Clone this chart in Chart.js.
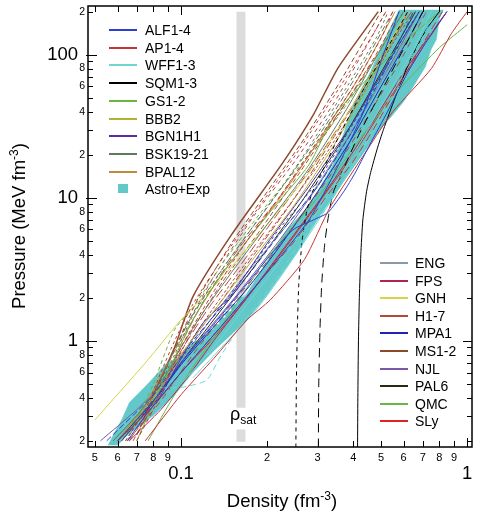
<!DOCTYPE html>
<html><head><meta charset="utf-8">
<script src="https://cdn.jsdelivr.net/npm/chart.js@4.4.1/dist/chart.umd.min.js"></script>
<style>
html,body{margin:0;padding:0;background:#fff;}
#wrap{position:relative;width:481px;height:515px;font-family:"Liberation Sans",Arial,sans-serif;color:#000;overflow:hidden;}
#c{position:absolute;left:0;top:0;}
.row{position:absolute;height:18px;line-height:18px;font-size:14px;white-space:nowrap;}
.sw{position:absolute;}
.title{position:absolute;font-size:18.5px;white-space:nowrap;text-align:center;}
.title sup{font-size:12px;vertical-align:7px;line-height:0;}
#ytitle{left:-131px;top:215px;width:300px;height:22px;line-height:22px;transform:rotate(-90deg);}
#xtitle{left:132px;top:490px;width:300px;height:22px;line-height:22px;}
#rhosat{position:absolute;left:230px;top:404px;font-size:18px;line-height:20px;}
#rhosat span{font-size:12px;position:relative;top:4px;}
</style>
</head><body>
<div id="wrap">
<canvas id="c" width="481" height="515"></canvas>
<div id="ytitle" class="title">Pressure (MeV fm<sup>-3</sup>)</div>
<div id="xtitle" class="title">Density (fm<sup>-3</sup>)</div>
<div id="rhosat">ρ<span>sat</span></div>
</div>
<script>
// ---------------- DATA (density fm^-3, pressure MeV fm^-3) ----------------
const xTickValues = [0.05,0.06,0.07,0.08,0.09,0.1,0.2,0.3,0.4,0.5,0.6,0.7,0.8,0.9,1];
const xTickLabels = ['5','6','7','8','9','','2','3','4','5','6','7','8','9',''];
const xMajorValues = [0.1,1];
const xMajorLabels = ['0.1','1'];
const yTickValues = [0.2,0.3,0.4,0.5,0.6,0.7,0.8,0.9,1,2,3,4,5,6,7,8,9,10,20,30,40,50,60,70,80,90,100,200];
const yTickLabels = ['2','','4','','6','','8','','','2','','4','','6','','8','','','2','','4','','6','','8','','','2'];
const yMajorValues = [1,10,100];
const yMajorLabels = ['1','10','100'];

const legendLeft = ['ALF1-4','AP1-4','WFF1-3','SQM1-3','GS1-2','BBB2','BGN1H1','BSK19-21','BPAL12','Astro+Exp'];
const legendRight = ['ENG','FPS','GNH','H1-7','MPA1','MS1-2','NJL','PAL6','QMC','SLy'];

const RHO_SAT = 0.162;
const RHO_SAT_SPAN = [[200,0.34],[0.24,0.197]];

const ASTRO_EXP = [
 [0.0556,0.186],[0.058,0.22],[0.062,0.28],[0.066,0.37],[0.075,0.48],[0.082,0.58],[0.088,0.68],[0.095,0.74],
 [0.1,0.8],[0.106,0.9],[0.112,1.0],[0.118,1.0],[0.118,1.1],[0.124,1.1],[0.124,1.2],[0.13,1.2],[0.13,1.3],
 [0.136,1.3],[0.136,1.45],[0.143,1.45],[0.143,1.6],[0.15,1.6],[0.15,1.8],[0.158,1.8],[0.158,2.0],[0.167,2.03],
 [0.2,3.6],[0.235,6.0],[0.276,8.5],[0.3,11],[0.34,17],[0.37,28],[0.4,45],[0.46,76],[0.517,131],[0.578,205],
 [0.825,205],[0.8,180],[0.78,127],[0.75,110],[0.714,82],[0.68,70],[0.649,60],[0.6,47],[0.55,38],[0.496,30],
 [0.43,20],[0.36,12],[0.31,7.8],[0.255,4.2],[0.2,2.1],[0.17,1.4],[0.13,0.85],[0.11,0.6],[0.095,0.42],
 [0.08,0.3],[0.065,0.22],[0.06,0.186]
];

const ALF = [
 [[0.06,0.2],[0.08,0.38],[0.1,0.7],[0.13,1.3],[0.17,2.5],[0.21,4.2],[0.246,5.97],[0.29,7],[0.326,7.86],[0.37,11],[0.406,14.9],[0.447,21.6],[0.52,38],[0.62,75],[0.75,140],[0.85,200]],
 [[0.065,0.2],[0.075,0.3],[0.1,0.6],[0.14,1.3],[0.2,3],[0.28,7],[0.35,16],[0.43,38],[0.5,90],[0.578,200]],
 [[0.055,0.2],[0.08,0.42],[0.11,1.0],[0.16,2.4],[0.22,5.5],[0.3,12],[0.4,30],[0.52,80],[0.65,200]],
 [[0.1,0.75],[0.13,1.5],[0.17,3],[0.22,6],[0.3,13],[0.4,33],[0.5,70],[0.62,150],[0.68,200]]
];
const AP = [
 [[0.06,0.2],[0.08,0.35],[0.1,0.6],[0.13,1.1],[0.165,1.9],[0.2,3],[0.25,5],[0.32,10],[0.4,18],[0.47,30],[0.6,70],[0.75,150],[0.82,200]],
 [[0.075,0.2],[0.1,0.42],[0.13,0.75],[0.17,1.4],[0.205,1.93],[0.27,3.7],[0.332,8.6],[0.45,22],[0.55,40],[0.75,80],[0.88,140],[1.0,200]],
 [[0.07,0.2],[0.085,0.42],[0.1,0.9],[0.13,2.2],[0.17,5],[0.22,10],[0.3,25],[0.4,60],[0.5,130],[0.55,200]],
 [[0.064,0.2],[0.075,0.33],[0.085,0.6],[0.095,1.0],[0.11,1.8],[0.14,3.8],[0.19,9],[0.26,22],[0.36,60],[0.46,130],[0.52,200]]
];
const WFF = [
 [[0.0845,0.47],[0.097,0.47],[0.105,0.48],[0.123,0.53],[0.137,0.77],[0.16,1.25],[0.2,2.2],[0.26,4.8],[0.34,10],[0.44,24],[0.55,55],[0.68,120],[0.78,200]],
 [[0.11,0.55],[0.135,0.85],[0.181,1.6],[0.22,2.7],[0.28,5.5],[0.36,12],[0.45,25],[0.55,50],[0.7,110],[0.82,200]],
 [[0.1,0.5],[0.13,0.9],[0.17,1.8],[0.22,3.5],[0.3,8],[0.4,20],[0.52,50],[0.65,110],[0.75,200]]
];
const SQM = [
 [[0.414,0.18],[0.415,0.4],[0.417,1],[0.42,2],[0.425,4],[0.432,7],[0.445,11],[0.46,15],[0.485,22],[0.51,30],[0.56,50],[0.63,90],[0.72,150],[0.8,200]],
 [[0.302,0.18],[0.303,0.5],[0.306,1.2],[0.31,2.4],[0.317,4.5],[0.326,7],[0.34,10.8],[0.37,16],[0.42,28],[0.5,55],[0.6,110],[0.7,200]],
 [[0.252,0.18],[0.253,0.5],[0.255,1.2],[0.258,2.5],[0.265,5],[0.275,8],[0.287,10.8],[0.31,15],[0.36,28],[0.44,60],[0.55,130],[0.62,200]]
];
const GS = [
 [[0.065,0.2],[0.08,0.5],[0.095,1.2],[0.11,1.7],[0.14,3.5],[0.2,9],[0.28,20],[0.38,45],[0.5,110],[0.6,200]],
 [[0.07,0.2],[0.09,0.6],[0.11,1.4],[0.14,3],[0.2,7.5],[0.28,17],[0.345,38],[0.5,85],[0.65,140],[0.8,200]]
];
const BBB2 = [
 [[0.06,0.2],[0.08,0.4],[0.1,0.8],[0.13,1.6],[0.18,3.8],[0.25,9],[0.35,25],[0.47,70],[0.62,200]]
];
const BGN1H1 = [
 [[0.075,0.32],[0.0845,0.41],[0.1,0.75],[0.12,1.35],[0.148,2.03],[0.2,4.8],[0.28,12],[0.4,34],[0.55,100],[0.68,200]]
];
const BSK = [
 [[0.058,0.2],[0.072,0.32],[0.085,0.5],[0.1,0.9],[0.12,1.6],[0.15,3],[0.2,6.5],[0.28,16],[0.38,42],[0.5,110],[0.6,200]],
 [[0.062,0.2],[0.078,0.38],[0.09,0.7],[0.105,1.3],[0.13,2.6],[0.17,5.5],[0.23,12.5],[0.32,32],[0.44,90],[0.55,200]],
 [[0.064,0.2],[0.08,0.4],[0.095,0.8],[0.11,1.5],[0.14,3.2],[0.19,7.5],[0.26,18],[0.36,50],[0.48,130],[0.53,200]]
];
const BPAL12 = [
 [[0.06,0.2],[0.075,0.36],[0.09,0.7],[0.105,1.2],[0.13,2.4],[0.17,5],[0.23,11],[0.31,27],[0.42,70],[0.56,200]]
];
const ENG = [
 [[0.058,0.2],[0.08,0.4],[0.11,0.95],[0.15,2.2],[0.2,4.4],[0.28,10],[0.38,26],[0.5,65],[0.65,150],[0.72,200]]
];
const FPS = [
 [[0.066,0.2],[0.085,0.33],[0.105,0.55],[0.13,1],[0.17,2],[0.23,4.5],[0.32,11],[0.45,30],[0.6,75],[0.8,170],[0.85,200]]
];
const GNH = [
 [[0.05,0.28],[0.075,0.7],[0.1,1.4],[0.14,2.8],[0.2,6.5],[0.28,15],[0.38,38],[0.5,95],[0.62,200]]
];
const H = [
 [[0.07,0.22],[0.085,0.45],[0.1,0.95],[0.12,1.9],[0.16,4.5],[0.22,10],[0.3,24],[0.4,55],[0.5,110],[0.6,200]],
 [[0.068,0.2],[0.09,0.55],[0.11,1.2],[0.14,2.6],[0.19,6],[0.26,15],[0.36,40],[0.48,100],[0.58,200]],
 [[0.072,0.25],[0.088,0.62],[0.105,1.3],[0.13,2.8],[0.18,7.5],[0.25,18],[0.34,45],[0.44,110],[0.52,200]],
 [[0.06,0.2],[0.08,0.4],[0.1,0.8],[0.13,1.6],[0.18,4],[0.25,10],[0.34,26],[0.45,65],[0.58,150],[0.62,200]],
 [[0.065,0.2],[0.085,0.38],[0.11,0.8],[0.15,1.8],[0.2,3.6],[0.27,8],[0.36,18],[0.46,40],[0.6,100],[0.72,200]],
 [[0.075,0.28],[0.09,0.55],[0.11,1.05],[0.14,2.1],[0.18,4.2],[0.24,9],[0.32,20],[0.42,48],[0.55,120],[0.65,200]],
 [[0.066,0.2],[0.083,0.42],[0.1,0.85],[0.125,1.7],[0.16,3.3],[0.21,7],[0.29,17],[0.4,45],[0.52,110],[0.64,200]]
];
const MPA1 = [
 [[0.062,0.2],[0.08,0.37],[0.1,0.68],[0.13,1.25],[0.17,2.3],[0.22,4.5],[0.3,11],[0.4,27],[0.5,60],[0.65,150],[0.7,200]]
];
const MS = [
 [[0.075,0.3],[0.08,0.42],[0.095,0.9],[0.11,2.03],[0.15,5.5],[0.227,17.6],[0.29,38],[0.354,81],[0.489,200]],
 [[0.07,0.22],[0.082,0.45],[0.098,1.0],[0.115,2.0],[0.15,4.8],[0.2,11],[0.27,26],[0.36,65],[0.5,200]]
];
const NJL = [
 [[0.0523,0.2],[0.07,0.33],[0.09,0.55],[0.12,1.1],[0.16,2.2],[0.22,5],[0.3,12],[0.4,30],[0.52,75],[0.68,200]]
];
const PAL6 = [
 [[0.06,0.2],[0.08,0.38],[0.105,0.8],[0.14,1.7],[0.19,3.8],[0.26,9],[0.36,24],[0.48,65],[0.62,160],[0.66,200]]
];
const QMC = [
 [[0.0767,0.2],[0.095,0.42],[0.1147,0.736],[0.14,1.3],[0.2,3.8],[0.3,10],[0.433,27.6],[0.6,62],[0.8,112],[1.0,162]]
];
const SLY = [
 [[0.06,0.2],[0.08,0.35],[0.1,0.6],[0.13,1.05],[0.17,2],[0.22,3.9],[0.3,9],[0.4,20],[0.5,40],[0.65,90],[0.85,200]]
];

// ---------------- STYLES ----------------
const STYLE = {
 'ALF1-4':  {data:ALF,   color:'#2b3fd0', dash:[[],[],[6,3],[3,3]]},
 'AP1-4':   {data:AP,    color:'#c83434', dash:[[8,5],[],[4,3],[3,3]]},
 'WFF1-3':  {data:WFF,   color:'#6fd6d6', dash:[[6,4],[],[]]},
 'SQM1-3':  {data:SQM,   color:'#000000', dash:[[],[9,6],[4,4]]},
 'GS1-2':   {data:GS,    color:'#6db33f', dash:[[4,3],[]]},
 'BBB2':    {data:BBB2,  color:'#b2b232', dash:[[]]},
 'BGN1H1':  {data:BGN1H1,color:'#5a2d9a', dash:[[]]},
 'BSK19-21':{data:BSK,   color:'#5f7a5f', dash:[[],[6,3],[3,3]]},
 'BPAL12':  {data:BPAL12,color:'#c08a3a', dash:[[]]},
 'ENG':     {data:ENG,   color:'#8899aa', dash:[[]]},
 'FPS':     {data:FPS,   color:'#b0245a', dash:[[]]},
 'GNH':     {data:GNH,   color:'#d4d447', dash:[[]]},
 'H1-7':    {data:H,     color:'#b4473a', dash:[[8,4],[5,3],[4,4],[7,3],[6,5],[3,2],[10,4]]},
 'MPA1':    {data:MPA1,  color:'#2222bb', dash:[[]]},
 'MS1-2':   {data:MS,    color:'#8b4a2b', dash:[[],[5,3]]},
 'NJL':     {data:NJL,   color:'#7a5aa8', dash:[[]]},
 'PAL6':    {data:PAL6,  color:'#2a2a14', dash:[[]]},
 'QMC':     {data:QMC,   color:'#66b84a', dash:[[]]},
 'SLy':     {data:SLY,   color:'#e02222', dash:[[]]}
};
const BAND_COLOR = '#62c8c8';
const SAT_COLOR = '#dcdcdc';

// ---------------- BUILD ----------------
const pts = arr => arr.map(p => p ? {x:p[0], y:p[1]} : {x:NaN, y:null});
const datasets = [];
Object.keys(STYLE).forEach(name => {
  const s = STYLE[name];
  s.data.forEach((curve, i) => {
    datasets.push({
      label: name, data: pts(curve), showLine: true, fill: false,
      borderColor: s.color, borderWidth: name==='MS1-2' && i===0 ? 1.5 : 1,
      borderDash: s.dash[i] || [], pointRadius: 0, tension: 0.2, order: 1
    });
  });
});
datasets.push({label:'Astro+Exp', data: pts(ASTRO_EXP), showLine:true, fill:'shape',
  backgroundColor: BAND_COLOR, borderColor: BAND_COLOR, borderWidth: 0.5, pointRadius:0, tension:0, order: 50});
datasets.push({label:'rho_sat', data: pts([[RHO_SAT,RHO_SAT_SPAN[0][0]],[RHO_SAT,RHO_SAT_SPAN[0][1]],null,[RHO_SAT,RHO_SAT_SPAN[1][0]],[RHO_SAT,RHO_SAT_SPAN[1][1]]]),
  showLine:true, spanGaps:false, fill:false, borderColor: SAT_COLOR, borderWidth: 9, borderCapStyle:'butt', pointRadius:0, tension:0, order: 100});

const X_MIN = 0.0473, X_MAX = 1.04, Y_MIN = 0.181, Y_MAX = 219;

function logAxis(pos, weight, values, labels, fontSize, padding, size, min, max) {
  return {
    type:'logarithmic', position:pos, weight, min, max, bounds:'data', display:true,
    grid:{display:false, drawTicks:false}, border:{display:false},
    afterBuildTicks(s){ s.ticks = values.map(v => ({value:v})); },
    ticks:{autoSkip:false, maxRotation:0, minRotation:0, padding, color:'#000',
      font:{family:'Liberation Sans', size:fontSize, lineHeight:1.2},
      callback:(v,i) => labels[i]},
    afterFit(s){
      if (pos==='left' || pos==='right') s.width = size; else s.height = size;
      s.paddingTop = 0; s.paddingBottom = 0; s.paddingLeft = 0; s.paddingRight = 0;
    }
  };
}

const framePlugin = {
  id:'frame',
  afterDatasetsDraw(chart){
    const {ctx, chartArea:a, scales} = chart;
    const xs = scales.x, ys = scales.y;
    ctx.save();
    ctx.strokeStyle = '#000';
    ctx.lineWidth = 1;
    xTickValues.forEach(v => {
      const px = Math.round(xs.getPixelForValue(v)) + 0.5;
      const len = xMajorValues.includes(v) ? 9 : 6;
      ctx.beginPath();
      ctx.moveTo(px, a.bottom); ctx.lineTo(px, a.bottom - len);
      ctx.moveTo(px, a.top); ctx.lineTo(px, a.top + len);
      ctx.stroke();
    });
    yTickValues.forEach(v => {
      const py = Math.round(ys.getPixelForValue(v)) + 0.5;
      const len = yMajorValues.includes(v) ? 9 : 5;
      ctx.beginPath();
      ctx.moveTo(a.left - (len>5?2:0), py); ctx.lineTo(a.left + len, py);
      ctx.moveTo(a.right, py); ctx.lineTo(a.right - len, py);
      ctx.stroke();
    });
    ctx.lineWidth = 1.5;
    ctx.strokeRect(a.left, a.top, a.right - a.left, a.bottom - a.top);
    ctx.restore();
  }
};

Chart.defaults.font.family = 'Liberation Sans';
new Chart(document.getElementById('c'), {
  type:'scatter',
  data:{datasets},
  options:{
    responsive:false, animation:false, devicePixelRatio:1,
    layout:{padding:{top:6, right:9, left:0, bottom:0}},
    plugins:{legend:{display:false}, tooltip:{enabled:false}},
    events:[],
    scales:{
      x: logAxis('bottom',0,xTickValues,xTickLabels,11,4,16,X_MIN,X_MAX),
      x2: logAxis('bottom',1,xMajorValues,xMajorLabels,18.5,0,52,X_MIN,X_MAX),
      y: logAxis('left',0,yTickValues,yTickLabels,10.5,3,10,Y_MIN,Y_MAX),
      y2: logAxis('left',1,yMajorValues,yMajorLabels,18.5,0,78,Y_MIN,Y_MAX)
    }
  },
  plugins:[framePlugin]
});

// ---------------- HTML LEGENDS ----------------
const wrap = document.getElementById('wrap');
function buildLegend(names, swLeft, textLeft, top0, step) {
  names.forEach((n, i) => {
    const cy = Math.round(top0 + i*step);
    const row = document.createElement('div');
    row.className = 'row';
    row.style.left = textLeft + 'px';
    row.style.top = (cy - 9) + 'px';
    row.textContent = n;
    wrap.appendChild(row);
    const sw = document.createElement('div');
    sw.className = 'sw';
    if (n === 'Astro+Exp') {
      sw.style.left = (swLeft + 9) + 'px'; sw.style.top = (cy - 5) + 'px';
      sw.style.width = '10px'; sw.style.height = '9px'; sw.style.background = BAND_COLOR;
    } else {
      sw.style.left = swLeft + 'px'; sw.style.top = (cy - 1) + 'px';
      sw.style.width = '28px'; sw.style.height = '1.5px'; sw.style.background = STYLE[n].color;
    }
    wrap.appendChild(sw);
  });
}
buildLegend(legendLeft, 109, 145, 30, 17.7);
buildLegend(legendRight, 380, 415, 263, 17.6);
</script>
</body></html>
